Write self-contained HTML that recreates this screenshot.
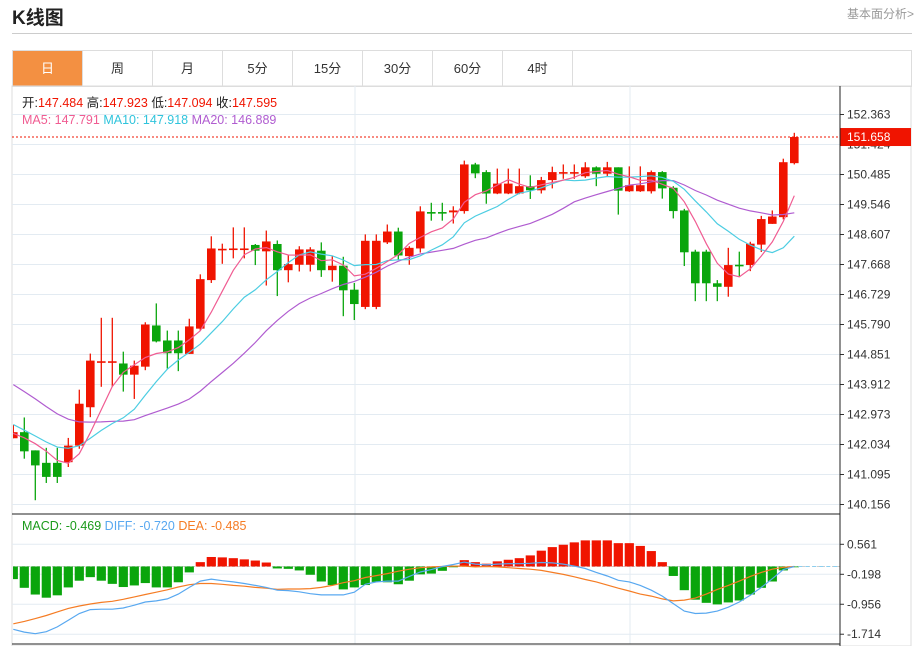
<!DOCTYPE html>
<html><head><meta charset="utf-8">
<style>
html,body{margin:0;padding:0;background:#fff;width:918px;height:646px;overflow:hidden;font-family:"Liberation Sans","Noto Sans CJK SC",sans-serif;}
#root{position:relative;width:918px;height:646px;}
.title{position:absolute;left:12px;top:3px;font-size:19px;font-weight:bold;color:#222;}
.more{position:absolute;right:4px;top:5px;font-size:12px;color:#999;}
.hr{position:absolute;left:12px;top:33px;width:900px;height:1px;background:#ccc;}
.tabs{position:absolute;left:12px;top:50px;width:898px;height:35px;border:1px solid #ddd;display:flex;}
.tab{width:70px;height:35px;line-height:35px;text-align:center;font-size:13px;color:#333;border-right:1px solid #ddd;box-sizing:border-box;}
.tab.on{background:#f39042;color:#fff;}
svg{position:absolute;left:0;top:0;}
</style></head><body>
<div id="root">
<div class="title">K线图</div>
<div class="more">基本面分析&gt;</div>
<div class="hr"></div>
<div class="tabs">
<div class="tab on">日</div>
<div class="tab">周</div>
<div class="tab">月</div>
<div class="tab">5分</div>
<div class="tab">15分</div>
<div class="tab">30分</div>
<div class="tab">60分</div>
<div class="tab">4时</div>
</div>
<svg id="chart" width="918" height="646"></svg>
</div>
<script>
const priceTicks = [152.363,151.424,150.485,149.546,148.607,147.668,146.729,145.790,144.851,143.912,142.973,142.034,141.095,140.156];
const macdTicks = [0.561,-0.198,-0.956,-1.714];
const priorCloses = [146.2,146.0,145.8,145.6,145.3,145.0,144.8,144.5,144.3,144.1,143.6,143.2,142.9,142.6,142.4,142.5,142.3,142.2,142.48];
const opens = [142.23,142.42,141.85,141.46,141.46,141.48,142.00,143.20,144.63,144.63,144.57,144.22,144.47,145.76,145.29,145.29,144.87,145.66,147.18,148.15,148.16,148.16,148.28,148.08,148.31,147.49,147.66,147.66,148.10,147.49,147.63,146.88,146.34,146.34,148.36,148.70,147.93,148.17,149.31,149.31,149.30,149.34,150.80,150.56,149.89,149.89,149.89,150.12,149.99,150.31,150.55,150.55,150.43,150.71,150.51,150.71,149.96,149.96,149.96,150.56,150.07,149.36,148.07,148.07,147.08,146.97,147.66,147.65,148.29,148.94,149.15,150.84];
const highs = [142.65,142.88,141.85,141.93,141.93,142.24,143.75,144.88,146.00,146.00,144.94,144.66,145.86,146.45,145.60,145.60,145.97,147.36,148.55,148.32,148.83,148.83,148.31,148.73,148.42,147.95,148.24,148.21,148.36,147.93,147.91,147.09,148.61,148.61,148.92,148.82,148.24,149.49,149.60,149.60,149.49,150.92,150.85,150.62,150.67,150.67,150.67,150.46,150.41,150.73,150.80,150.80,150.87,150.74,150.88,150.71,150.74,150.74,150.61,150.59,150.12,149.41,148.13,148.13,147.18,148.19,148.07,148.38,149.19,149.36,150.98,151.79];
const lows = [142.23,141.59,140.29,140.83,140.83,141.33,141.90,142.89,143.84,143.84,143.69,143.46,144.36,145.23,144.41,144.33,144.87,145.60,147.09,147.69,147.86,147.86,147.65,147.01,146.68,147.11,147.45,147.45,147.28,147.13,146.05,145.93,146.27,146.27,148.31,147.82,147.66,148.04,149.04,149.04,148.95,149.26,150.37,149.57,149.87,149.87,149.87,149.72,149.89,150.05,150.35,150.35,150.38,150.12,150.41,149.23,149.94,149.94,149.89,149.73,149.11,147.62,146.52,146.52,146.52,146.66,147.30,147.46,148.06,148.94,149.08,150.80];
const closes = [142.42,141.82,141.38,141.02,141.02,142.00,143.31,144.66,144.64,144.64,144.22,144.50,145.79,145.26,144.89,144.89,145.73,147.21,148.17,148.16,148.17,148.17,148.10,148.39,147.49,147.68,148.14,148.14,147.49,147.63,146.86,146.43,148.41,148.41,148.70,147.95,148.19,149.33,149.29,149.29,149.36,150.80,150.52,149.89,150.20,150.20,150.12,149.99,150.31,150.56,150.56,150.56,150.71,150.51,150.71,149.98,150.15,150.15,150.56,150.05,149.34,148.05,147.08,147.08,146.97,147.65,147.64,148.32,149.09,149.17,150.87,151.658];
const macdHist = [-0.32,-0.54,-0.71,-0.79,-0.73,-0.53,-0.36,-0.27,-0.36,-0.44,-0.52,-0.48,-0.42,-0.53,-0.53,-0.40,-0.15,0.11,0.24,0.23,0.21,0.18,0.15,0.10,-0.05,-0.06,-0.10,-0.21,-0.38,-0.47,-0.58,-0.53,-0.47,-0.39,-0.40,-0.45,-0.36,-0.20,-0.18,-0.11,-0.02,0.16,0.11,0.07,0.13,0.17,0.21,0.28,0.40,0.49,0.55,0.61,0.66,0.66,0.66,0.59,0.59,0.52,0.39,0.11,-0.24,-0.60,-0.84,-0.92,-0.96,-0.91,-0.86,-0.71,-0.54,-0.38,-0.10,-0.01];
const diffLine = [-1.59,-1.66,-1.70,-1.65,-1.53,-1.36,-1.19,-1.09,-1.08,-1.08,-1.05,-0.98,-0.90,-0.87,-0.82,-0.70,-0.53,-0.37,-0.32,-0.36,-0.39,-0.43,-0.48,-0.53,-0.60,-0.61,-0.64,-0.69,-0.72,-0.72,-0.72,-0.65,-0.45,-0.39,-0.37,-0.37,-0.25,-0.14,-0.08,0.00,0.05,0.11,0.06,0.04,0.06,0.07,0.07,0.08,0.10,0.09,0.06,0.01,-0.05,-0.15,-0.24,-0.35,-0.39,-0.48,-0.60,-0.75,-0.94,-1.13,-1.19,-1.18,-1.13,-1.03,-0.90,-0.73,-0.53,-0.31,-0.08,0.00];
const deaLine = [-1.45,-1.39,-1.32,-1.24,-1.15,-1.06,-1.00,-0.95,-0.91,-0.88,-0.83,-0.77,-0.71,-0.65,-0.59,-0.52,-0.46,-0.43,-0.43,-0.45,-0.48,-0.50,-0.53,-0.55,-0.58,-0.57,-0.57,-0.56,-0.53,-0.48,-0.41,-0.36,-0.28,-0.23,-0.18,-0.12,-0.07,-0.03,-0.01,0.00,0.01,0.01,-0.01,0.00,-0.01,-0.03,-0.05,-0.07,-0.10,-0.15,-0.20,-0.26,-0.33,-0.39,-0.47,-0.55,-0.62,-0.70,-0.75,-0.82,-0.87,-0.85,-0.80,-0.70,-0.58,-0.48,-0.37,-0.25,-0.15,-0.07,-0.02,0.00];

const NS='http://www.w3.org/2000/svg';
const svg=document.getElementById('chart');
const L=12, R=840, TOP=86, MID=514, BOT=644;
const RED='#f01400', GREEN='#0aa50c';
function xAt(i){return 13.3+11*i;}
function yP(p){return 114.5+(152.363-p)*(30/0.939);}
function yM(v){return 574.3-(v+0.198)*(30/0.759);}
function mk(tag,attrs,parent){const e=document.createElementNS(NS,tag);for(const k in attrs)e.setAttribute(k,attrs[k]);(parent||svg).appendChild(e);return e;}

// clip
const defs=mk('defs',{});
const cp=mk('clipPath',{id:'clipMain'},defs);mk('rect',{x:L+1,y:TOP,width:R-L-1,height:MID-TOP},cp);
const cp2=mk('clipPath',{id:'clipMacd'},defs);mk('rect',{x:L+1,y:MID,width:R-L-1,height:BOT-MID},cp2);

// frame
let e;
e=mk('rect',{x:L,y:TOP,width:899,height:560,fill:'none',stroke:'#ddd'});


// grid main
priceTicks.forEach(t=>{
  e=mk('line',{x1:L,x2:R,y1:yP(t),y2:yP(t),stroke:'#e3ebf2','stroke-width':1});
  
  e=mk('line',{x1:R,x2:R+4,y1:yP(t),y2:yP(t),stroke:'#333'});
  
  e=mk('text',{x:R+7,y:yP(t)+4,'font-size':12,fill:'#333'});e.textContent=t.toFixed(3);
  
});
macdTicks.forEach(t=>{
  e=mk('line',{x1:L,x2:R,y1:yM(t),y2:yM(t),stroke:'#e3ebf2'});
  
  e=mk('line',{x1:R,x2:R+4,y1:yM(t),y2:yM(t),stroke:'#333'});
  
  e=mk('text',{x:R+7,y:yM(t)+4,'font-size':12,fill:'#333'});e.textContent=t.toFixed(3);
  
});
[355,630].forEach(x=>{
  e=mk('line',{x1:x,x2:x,y1:TOP,y2:BOT,stroke:'#e3ebf2'});
  
});

// MAs
const allC=priorCloses.concat(closes);
function ma(n){return closes.map((c,i)=>{let s=0;const k=i+priorCloses.length;for(let j=k-n+1;j<=k;j++)s+=allC[j];return s/n;});}
const gMain=mk('g',{'clip-path':'url(#clipMain)'});
function line(vals,ys,color,name,g){
  const d=vals.map((v,i)=>(i?'L':'M')+xAt(i).toFixed(1)+','+ys(v).toFixed(1)).join('');
  const p=mk('path',{d:d,fill:'none',stroke:color,'stroke-width':1.2},g);
  
}
// candles
closes.forEach((c,i)=>{
  const o=opens[i],up=c>=o,col=up?RED:GREEN,x=xAt(i);
  const g=mk('g',{},gMain);
  
  mk('line',{x1:x,x2:x,y1:yP(highs[i]),y2:yP(lows[i]),stroke:col,'stroke-width':1.3},g);
  const t=yP(Math.max(o,c)),b=yP(Math.min(o,c));
  mk('rect',{x:x-4.3,y:t,width:8.6,height:Math.max(b-t,1.6),fill:col},g);
});
line(ma(20),yP,'#b05cd0','ma20-line',gMain);
line(ma(10),yP,'#4ccde2','ma10-line',gMain);
line(ma(5),yP,'#f05c92','ma5-line',gMain);

// last price line
const lp=closes[closes.length-1];
e=mk('line',{x1:L,x2:R,y1:yP(lp),y2:yP(lp),stroke:RED,'stroke-dasharray':'2,2'});

e=mk('rect',{x:R,y:yP(lp)-9,width:71,height:18,fill:RED});

e=mk('text',{x:R+7,y:yP(lp)+4,'font-size':12,fill:'#fff'});e.textContent=lp.toFixed(3);


// MACD
const gM=mk('g',{'clip-path':'url(#clipMacd)'});
const z=yM(0);
e=mk('line',{x1:L,x2:R,y1:z,y2:z,stroke:'#ccc','stroke-dasharray':'3,2'},gM);

macdHist.forEach((v,i)=>{
  const y=yM(v);
  const r=mk('rect',{x:xAt(i)-4.6,y:Math.min(y,z),width:9.2,height:Math.max(Math.abs(y-z),0.8),fill:v>=0?RED:GREEN},gM);
  
});
line(deaLine,yM,'#f57c24','dea-line',gM);
line(diffLine,yM,'#58a8f0','diff-line',gM);
e=mk('line',{x1:xAt(71)+4,x2:R,y1:yM(diffLine[71]),y2:yM(diffLine[71]),stroke:'#8ccff0','stroke-dasharray':'4,3'});


// axes
e=mk('line',{x1:R,x2:R,y1:TOP,y2:BOT+2,stroke:'#222'});

e=mk('line',{x1:L,x2:R,y1:MID,y2:MID,stroke:'#222'});

e=mk('line',{x1:L,x2:R,y1:BOT,y2:BOT,stroke:'#222'});


// info text
function info(x,y,parts,name){
  const t=mk('text',{x:x,y:y,'font-size':12.5});
  
  parts.forEach(p=>{const s=mk('tspan',{fill:p[1]},t);s.textContent=p[0];});
}
info(22,107,[['开:','#222'],['147.484  ',RED],['高:','#222'],['147.923  ',RED],['低:','#222'],['147.094  ',RED],['收:','#222'],['147.595',RED]],'ohlc-info');
info(22,124,[['MA5: 147.791   ','#f05c92'],['MA10: 147.918   ','#2fc4dc'],['MA20: 146.889','#b05cd0']],'ma-legend');
info(22,530,[['MACD: -0.469   ','#1a9a1a'],['DIFF: -0.720   ','#58a8f0'],['DEA: -0.485','#f57c24']],'macd-legend');
</script>
</body></html>
